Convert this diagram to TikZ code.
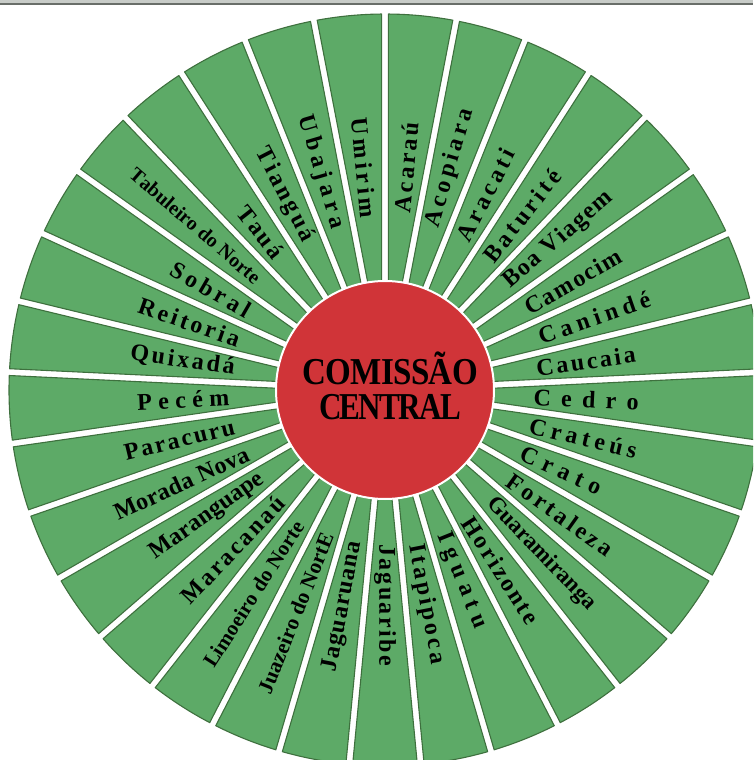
\documentclass[tikz,border=0pt]{standalone}
\usepackage{fontspec}
\setmainfont{Liberation Serif}
\usepackage{graphicx}
\definecolor{segfill}{RGB}{93,170,103}
\definecolor{segline}{RGB}{62,112,62}
\definecolor{hubred}{RGB}{208,52,56}
\definecolor{bandgray}{RGB}{200,204,200}
\definecolor{banddark}{RGB}{105,110,105}
\def\spreadA#1#2\endspread{#1\ifx\endspread#2\endspread\else\hss\spreadA#2\endspread\fi}
\newcommand\lab[5]{%
  \pgfmathsetmacro\labang{90-(#1+0.5)*360/33}%
  \pgfmathsetmacro\labrot{(\labang<-90.01||\labang>90)?\labang+180:\labang}%
  \pgfmathsetmacro\labmid{(#2+#3)/2}%
  \pgfmathsetmacro\lablen{#3-#2}%
  \node[labeltext, rotate=\labrot, font=\fontsize{#4}{#4}\selectfont\bfseries] (L#1) at (\labang:\labmid) {\makebox[\lablen pt][s]{\spreadA #5\endspread}};%
}
\begin{document}
\begin{tikzpicture}[x=1pt,y=1pt,
  seg/.style={fill=segfill, draw=segline, line width=1.1pt, line join=round},
  labeltext/.style={inner sep=0pt, text=black},
  hubtext/.style={inner sep=0pt, anchor=base, text=black, font=\fontsize{38}{38}\selectfont\bfseries}]
\useasboundingbox (-385,-370) rectangle (368,390);
\clip (-385,-370) rectangle (368,390);
\def\halfgap{3.4}
\def\rin{100}
\def\Rout{376}
\foreach \i in {0,...,32}{
  \pgfmathsetmacro\aone{90-\i*360/33}
  \pgfmathsetmacro\atwo{90-(\i+1)*360/33}
  \pgfmathsetmacro\din{asin(\halfgap/\rin)}
  \pgfmathsetmacro\dout{asin(\halfgap/\Rout)}
  \pgfmathsetmacro\pa{\atwo+\din}
  \pgfmathsetmacro\pb{\atwo+\dout}
  \pgfmathsetmacro\pc{\aone-\dout}
  \pgfmathsetmacro\pd{\aone-\din}
  \draw[seg] (\pa:\rin) -- (\pb:\Rout) arc[start angle=\pb, end angle=\pc, radius=\Rout pt] -- (\pd:\rin) -- cycle;
}
\node[circle, fill=hubred, draw=white, line width=2pt, minimum size=218pt, inner sep=0pt] (hub) at (0,0) {};
\node[hubtext] (hubA) at (5,5) {\scalebox{0.87}[1]{\makebox[202pt][s]{\spreadA COMISSÃO\endspread}}};
\node[hubtext] (hubB) at (5,-30) {\scalebox{0.82}[1]{\makebox[173pt][s]{\spreadA CENTRAL\endspread}}};
\lab{0}{178}{269}{24}{Acaraú}
\lab{1}{170}{292}{24}{Acopiara}
\lab{2}{169}{270}{24}{Aracati}
\lab{3}{166}{277}{24}{Baturité}
\lab{4}{161}{297}{24}{Boa~Viagem}
\lab{5}{163}{271}{24}{Camocim}
\lab{6}{163}{280}{24}{Canindé}
\lab{7}{153}{253}{24}{Caucaia}
\lab{8}{149}{254}{24}{Cedro}
\lab{9}{149}{259}{24}{Crateús}
\lab{10}{150}{237}{24}{Crato}
\lab{11}{153}{277}{24}{Fortaleza}
\lab{12}{153}{300}{23}{Guaramiranga}
\lab{13}{153}{276}{24}{Horizonte}
\lab{14}{155}{256}{24}{Iguatu}
\lab{15}{157}{279}{24}{Itapipoca}
\lab{16}{154}{276}{24}{Jaguaribe}
\lab{17}{154}{287}{24}{Jaguaruana}
\lab{18}{155}{326}{21.5}{Juazeiro~do~NortE}
\lab{19}{158}{327}{21}{Limoeiro~do~Norte}
\lab{20}{151}{290}{24}{Maracanaú}
\lab{21}{151}{285}{24}{Maranguape}
\lab{22}{151}{297}{24}{Morada~Nova}
\lab{23}{155}{268}{24}{Paracuru}
\lab{24}{156}{248}{24}{Pecém}
\lab{25}{152}{257}{24}{Quixadá}
\lab{26}{154}{260}{24}{Reitoria}
\lab{27}{157}{245}{24}{Sobral}
\lab{28}{168}{334}{20}{Tabuleiro~do~Norte}
\lab{29}{171}{231}{24}{Tauá}
\lab{30}{168}{271}{24}{Tianguá}
\lab{31}{168}{286}{24}{Ubajara}
\lab{32}{173}{274}{24}{Umirim}
\fill[bandgray] (-385,386) rectangle (368,390);
\draw[banddark, line width=1.3pt] (-385,386) -- (368,386);
\end{tikzpicture}
\end{document}
